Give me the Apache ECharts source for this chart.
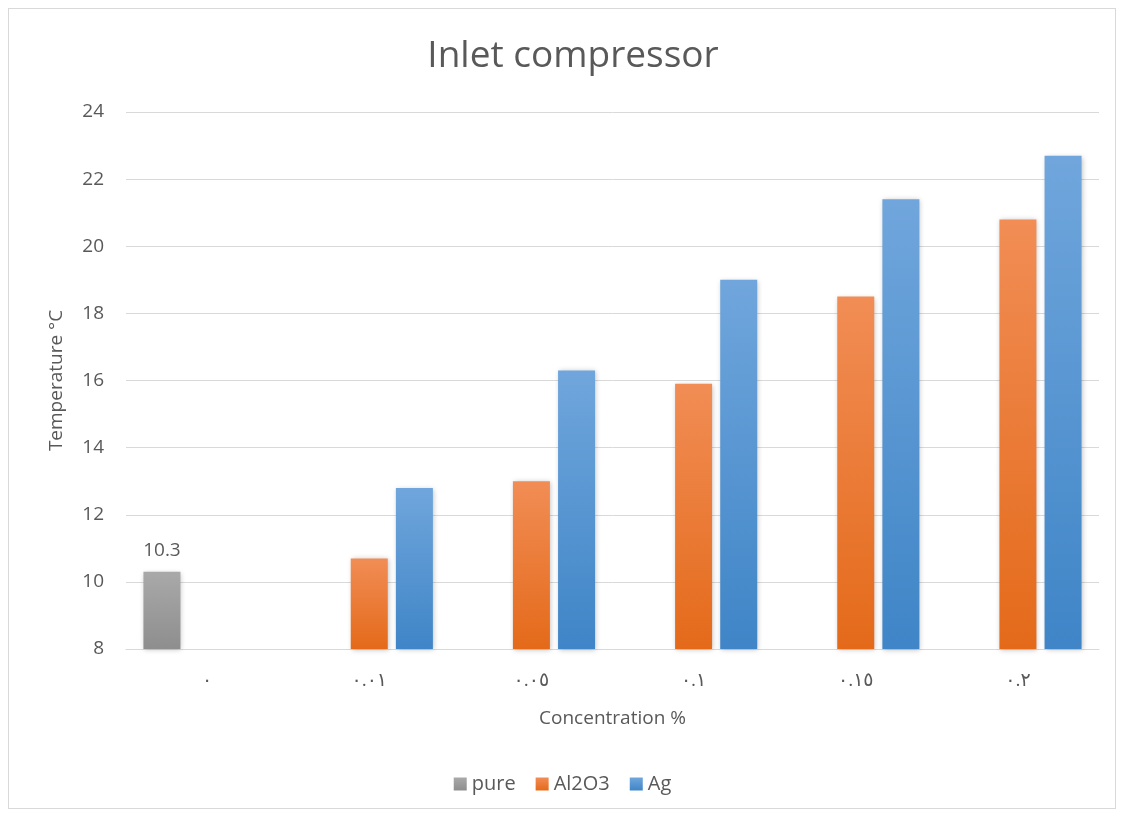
<!DOCTYPE html>
<html>
<head>
<meta charset="utf-8">
<script src="https://cdn.jsdelivr.net/npm/echarts@6/dist/echarts.min.js"></script>
<style>
  html, body { margin: 0; padding: 0; background: #ffffff; }
  #frame { position: absolute; left: 8px; top: 8px; width: 1108px; height: 801px; border: 1px solid #d9d9d9; box-sizing: border-box; }
  #chart { position: absolute; left: 0; top: 0; width: 1125px; height: 817px; }
</style>
</head>
<body>
<div id="frame"></div>
<div id="chart"></div>
<script>
// Concentration categories (Arabic-Indic numerals)
const categories = ['٠', '٠.٠١', '٠.٠٥', '٠.١', '٠.١٥', '٠.٢'];
// Inlet compressor temperature (°C) per fluid
const pureValues = [10.3, null, null, null, null, null];
const al2o3Values = [null, 10.7, 13.0, 15.9, 18.5, 20.8];
const agValues = [null, 12.8, 16.3, 19.0, 21.4, 22.7];
const yTicks = { min: 8, max: 24, step: 2 };

const FONT = '"Open Sans", "DejaVu Sans", sans-serif';
const TEXT = '#595959';

function grad(top, bottom) {
  return new echarts.graphic.LinearGradient(0, 0, 0, 1, [
    { offset: 0, color: top },
    { offset: 1, color: bottom }
  ]);
}

const shadow = { shadowColor: 'rgba(0,0,0,0.25)', shadowBlur: 5, shadowOffsetX: 1, shadowOffsetY: 1 };

const chart = echarts.init(document.getElementById('chart'));
chart.setOption({
  animation: false,
  backgroundColor: 'transparent',
  title: {
    text: 'Inlet compressor',
    left: 568,
    textAlign: 'center',
    top: 33,
    textStyle: { fontFamily: FONT, fontSize: 37, fontWeight: 'normal', color: TEXT }
  },
  legend: {
    bottom: 18,
    left: 'center',
    itemWidth: 13,
    itemHeight: 13,
    itemGap: 20,
    icon: 'rect',
    textStyle: { fontFamily: FONT, fontSize: 20, color: TEXT },
    data: ['pure', 'Al2O3', 'Ag']
  },
  grid: { left: 126, right: 26, top: 112, bottom: 168 },
  xAxis: {
    type: 'category',
    data: categories,
    name: 'Concentration %',
    nameLocation: 'middle',
    nameGap: 60,
    nameTextStyle: { fontFamily: FONT, fontSize: 19, color: TEXT },
    axisLine: { lineStyle: { color: '#d9d9d9', width: 1 } },
    axisTick: { show: false },
    axisLabel: { fontFamily: FONT, fontSize: 19, color: TEXT, margin: 22 }
  },
  yAxis: {
    type: 'value',
    min: yTicks.min,
    max: yTicks.max,
    interval: yTicks.step,
    name: 'Temperature °C',
    nameLocation: 'middle',
    nameGap: 60,
    nameRotate: 90,
    nameTextStyle: { fontFamily: FONT, fontSize: 19, color: TEXT },
    axisLine: { show: false },
    axisTick: { show: false },
    axisLabel: { fontFamily: FONT, fontSize: 19, color: TEXT, margin: 22 },
    splitLine: { lineStyle: { color: '#d9d9d9', width: 1 } }
  },
  series: [
    {
      name: 'pure',
      type: 'bar',
      data: pureValues,
      barWidth: 37,
      barGap: '22%',
      itemStyle: Object.assign({ color: grad('#a9a9a9', '#8e8e8e') }, shadow),
      label: {
        show: true,
        position: 'top',
        distance: 12,
        fontFamily: FONT,
        fontSize: 19,
        color: TEXT,
        formatter: p => p.value == null ? '' : p.value.toFixed(1)
      }
    },
    {
      name: 'Al2O3',
      type: 'bar',
      data: al2o3Values,
      barWidth: 37,
      barGap: '22%',
      itemStyle: Object.assign({ color: grad('#f18d55', '#e46a1a') }, shadow)
    },
    {
      name: 'Ag',
      type: 'bar',
      data: agValues,
      barWidth: 37,
      barGap: '22%',
      itemStyle: Object.assign({ color: grad('#70a6dc', '#3f85c7') }, shadow)
    }
  ]
});
</script>
</body>
</html>
